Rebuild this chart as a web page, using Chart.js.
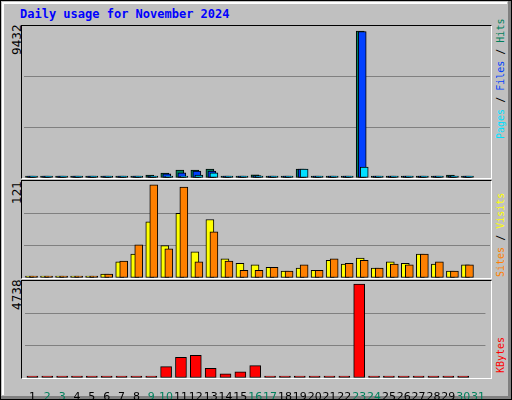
<!DOCTYPE html>
<html><head><meta charset="utf-8">
<script src="https://cdn.jsdelivr.net/npm/chart.js@4/dist/chart.umd.min.js"></script>
<style>
html,body{margin:0;padding:0;}
#wrap{position:relative;width:512px;height:400px;background:#c0c0c0;box-sizing:border-box;border:1px solid #000;overflow:hidden;}
#inner{position:absolute;left:1px;top:1px;right:4px;bottom:4px;border-top:2px solid #fff;border-left:2px solid #fff;}
#shadow{position:absolute;left:0;top:0;width:507px;height:395px;border-right:3px solid #808080;border-bottom:3px solid #808080;box-sizing:content-box;pointer-events:none}
.frame{position:absolute;left:20px;width:469px;border-top:1px solid #000;border-left:1px solid #000;border-right:1px solid #fff;border-bottom:1px solid #fff;}
canvas{position:absolute;}
.cv{position:absolute;}
.title{position:absolute;left:19px;top:6px;font:bold 12px "DejaVu Sans Mono",monospace;color:#0000ff;}
.yl{position:absolute;font:12px "DejaVu Sans",sans-serif;color:#000;transform-origin:left top;transform:rotate(-90deg);white-space:nowrap;}
.rl{position:absolute;font:10px "DejaVu Sans Mono",monospace;transform-origin:left top;transform:rotate(-90deg);white-space:nowrap;}
</style></head><body>
<div id="wrap">
<div id="inner"></div>
<div id="shadow"></div>
<div class="title">Daily usage for November 2024</div>
<div class="frame" style="top:24px;height:152px"></div>
<div class="frame" style="top:179px;height:97px"></div>
<div class="frame" style="top:279px;height:97px"></div>
<div class="yl" style="left:9px;top:54px">9432</div>
<div class="yl" style="left:9px;top:203px">121</div>
<div class="yl" style="left:9px;top:309px">4738</div>
<div class="rl" style="left:494px;top:138px"><span style="color:#00e0ff">Pages</span> / <span style="color:#0040ff">Files</span> / <span style="color:#00805c">Hits</span></div>
<div class="rl" style="left:494px;top:276px"><span style="color:#ff8000">Sites</span> / <span style="color:#ffff00">Visits</span></div>
<div class="rl" style="left:494px;top:372px"><span style="color:#ff0000">KBytes</span></div>
<div class="cv" style="left:23px;top:25px;width:466px;height:152px"><canvas id="c1"></canvas></div>
<div class="cv" style="left:23px;top:180px;width:466px;height:97px"><canvas id="c2"></canvas></div>
<div class="cv" style="left:23px;top:280px;width:466px;height:118px"><canvas id="c3"></canvas></div>
</div>
<script>
const days = [1,2,3,4,5,6,7,8,9,10,11,12,13,14,15,16,17,18,19,20,21,22,23,24,25,26,27,28,29,30];
const dayLabels = ["1","2","3","4","5","6","7","8","9","10","11","12","13","14","15","16","17","18","19","20","21","22","23","24","25","26","27","28","29","30","31"];
const weekendDays = [2,3,9,10,16,17,23,24,30,31];
const hits  = [10,10,10,10,10,10,130,70,190,320,510,510,580,60,60,200,10,10,580,10,10,10,9432,10,130,10,130,10,190,10];
const files = [10,10,10,10,10,10,60,40,120,260,330,450,450,40,50,150,10,10,580,10,10,10,9400,10,60,10,60,10,100,10];
const pages = [10,10,10,10,10,10,130,40,130,130,130,190,330,40,40,60,10,10,580,10,10,10,700,10,130,10,130,10,130,10];
const sites  = [1,2,1,1,2,5,21,31,73,42,84,34,76,25,19,17,14,9,13,10,23,18,26,13,21,19,31,18,9,17];
const visits = [1,2,1,1,2,5,22,43,121,38,118,21,60,22,10,10,14,9,17,10,25,19,23,13,18,17,31,21,9,17];
const kbytes = [30,30,30,30,30,30,30,30,30,575,1040,1150,490,210,310,625,30,30,30,30,30,100,4738,30,30,30,100,30,30,30];

const PX = 15; // px per day slot
function pts(vals, offPx){ return days.map((d,i)=>({x:d+offPx/PX, y:vals[i]})); }
function ds(vals, color, off, w){
  return {data:pts(vals,off), backgroundColor:color, borderColor:'#000', borderWidth:1, barThickness:w, minBarLength:2, grouped:false, borderSkipped:false};
}
function opts(max, showX){
  return {
    responsive:true, maintainAspectRatio:false, animation:false,
    layout:{padding:0},
    plugins:{legend:{display:false},tooltip:{enabled:false}},
    scales:{
      x:{type:'linear', min:0.5, max:31.5, display:showX, offset:false,
         grid:{display:false}, border:{display:false},
         afterFit:(s)=>{ s.height = showX ? 21 : 0; },
         afterBuildTicks:(s)=>{ s.ticks = dayLabels.map((_,i)=>({value:i+1})); },
         ticks:{autoSkip:false, maxRotation:0, padding:5,
           font:{family:'DejaVu Sans', size:11},
           color:(c)=> weekendDays.includes(c.tick.value) ? '#00805c' : '#000',
           callback:(v)=> dayLabels[v-1]}},
      y:{min:0, max:max, display:true, border:{display:false},
         ticks:{display:false, stepSize:max/3},
         afterFit:(s)=>{ s.width = 0; },
         grid:{drawTicks:false, color:(c)=> (c.index===1||c.index===2)?'#808080':'rgba(0,0,0,0)', lineWidth:1}}
    }
  };
}
new Chart(document.getElementById('c1'), {type:'bar',
  data:{datasets:[ds(pages,'#00e0ff',2,8), ds(files,'#0040ff',0,8), ds(hits,'#00805c',-2,8)].map((d,i)=>({...d,order:i}))},
  options:opts(9753,false)});
new Chart(document.getElementById('c2'), {type:'bar',
  data:{datasets:[{...ds(visits,'#ff8000',2,8),order:0},{...ds(sites,'#ffff00',-2,8),order:1}]},
  options:opts(126,false)});
new Chart(document.getElementById('c3'), {type:'bar',
  data:{datasets:[ds(kbytes,'#ff0000',0,11)]},
  options:opts(4894,true)});
</script>
</body></html>
